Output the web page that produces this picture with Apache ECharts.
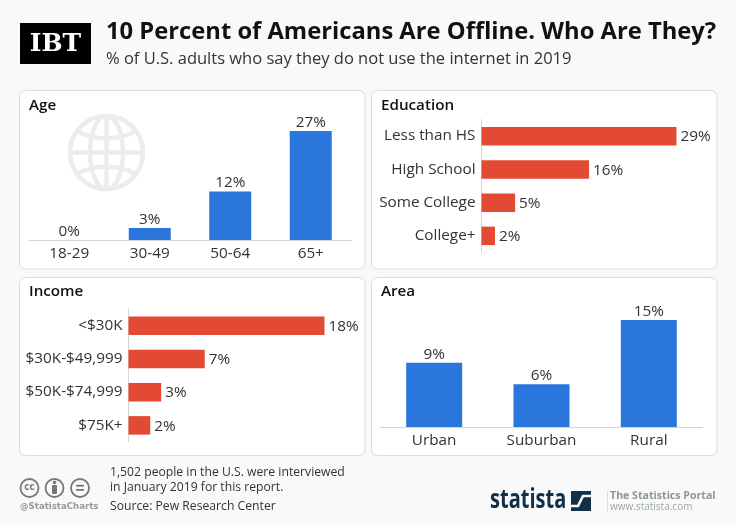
<!DOCTYPE html>
<html><head><meta charset="utf-8">
<style>html,body{margin:0;padding:0;background:#f9f9f9}#c{width:736px;height:524px}</style>
<script src="https://cdn.jsdelivr.net/npm/echarts@6/dist/echarts.min.js"></script>
</head><body><div id="c"></div>
<script>
const ageCats=['18-29','30-49','50-64','65+'];
const ageVals=[0,3,12,27];
const eduCats=['Less than HS','High School','Some College','College+'];
const eduVals=[29,16,5,2];
const incCats=['<$30K','$30K-$49,999','$50K-$74,999','$75K+'];
const incVals=[18,7,3,2];
const areaCats=['Urban','Suburban','Rural'];
const areaVals=[9,6,15];
const title='10 Percent of Americans Are Offline. Who Are They?';
const subtitle='% of U.S. adults who say they do not use the internet in 2019';
const panelNames=['Age','Education','Income','Area'];
const noteLines=['1,502 people in the U.S. were interviewed','in January 2019 for this report.','Source: Pew Research Center'];

const F='"Open Sans"';
const BLUE='#2b76dc',RED='#e34a33',TXT='#333',AX='#d2d4d6';
const FS=15.3;
const chart=echarts.init(document.getElementById('c'),null,{renderer:'canvas'});
function cat(idx,names,horizontal){
  return {gridIndex:idx,type:'category',data:names,inverse:horizontal,
    axisTick:{show:false},axisLine:{show:true,lineStyle:{color:AX,width:1}},
    axisLabel:{color:TXT,fontFamily:F,fontSize:FS,margin:6,interval:0,padding:horizontal?[2,0,0,0]:0}};
}
function val(idx,max){return {gridIndex:idx,type:'value',min:0,max:max,show:false,splitLine:{show:false}};}
function bar(idx,vals,color,w,horizontal){
  return {type:'bar',xAxisIndex:idx,yAxisIndex:idx,data:vals,barWidth:w,z:5,
    itemStyle:{color:color},
    label:{show:true,position:horizontal?'right':'top',distance:horizontal?4:1,offset:horizontal?[0,1]:[0,0],formatter:'{c}%',color:TXT,fontFamily:F,fontSize:FS}};
}
const t=(x,y,text,font,fill,extra,el)=>Object.assign({type:'text',z:1,x:x,y:y,silent:true,
  style:Object.assign({text:text,font:font,fill:fill,textAlign:'left',textVerticalAlign:'middle'},extra||{})},el||{});
const panel=(x,y,w,h)=>({type:'rect',z:0,silent:true,shape:{x:x,y:y,width:w,height:h,r:6},style:{fill:'#fff',stroke:'#dcdcdc',lineWidth:1}});
const G='#ececec';
const globeStroke={fill:'none',stroke:G,lineWidth:4.5};
const ic=(cx,cy)=>({type:'circle',z:1,silent:true,shape:{cx:cx,cy:cy,r:9},style:{fill:'none',stroke:'#777',lineWidth:1.8}});
const graphic=[
  panel(19.5,90.5,345.5,178.5),panel(371.5,90.5,345.5,178.5),panel(19.5,277.5,345.5,178),panel(371.5,277.5,345.5,178),
  {type:'rect',z:1,silent:true,shape:{x:20,y:23,width:71,height:41},style:{fill:'#000'}},
  t(55.5,44,'IBT','900 25px "DejaVu Serif"','#fff',{textAlign:'center'}),
  t(106,32,title,'700 23.75px '+F,'#111'),
  t(106,59,subtitle,'400 16.5px '+F,'#333'),
  t(29,105.5,panelNames[0],'600 15.2px '+F,'#111'),
  t(381,105.5,panelNames[1],'600 15.2px '+F,'#111'),
  t(29,292,panelNames[2],'600 15.2px '+F,'#111'),
  t(381,292,panelNames[3],'600 15.2px '+F,'#111'),
  {type:'circle',z:1,silent:true,shape:{cx:106.5,cy:152.5,r:36.5},style:globeStroke},
  {type:'ellipse',z:1,silent:true,shape:{cx:106.5,cy:152.5,rx:16.5,ry:36.5},style:globeStroke},
  {type:'line',z:1,silent:true,shape:{x1:106.5,y1:116,x2:106.5,y2:189},style:globeStroke},
  {type:'line',z:1,silent:true,shape:{x1:70,y1:152.5,x2:143,y2:152.5},style:globeStroke},
  {type:'bezierCurve',z:1,silent:true,shape:{x1:77,y1:131,x2:135.5,y2:131,cpx1:95,cpy1:141,cpx2:118,cpy2:141},style:globeStroke},
  {type:'bezierCurve',z:1,silent:true,shape:{x1:77,y1:174,x2:135.5,y2:174,cpx1:95,cpy1:164,cpx2:118,cpy2:164},style:globeStroke},
  ic(29.5,488),ic(54.5,488),ic(80,488),
  t(29.5,487.5,'cc','700 10px '+F,'#777',{textAlign:'center'}),
  {type:'circle',z:1,silent:true,shape:{cx:54.5,cy:482.5,r:1.8},style:{fill:'#777'}},
  {type:'rect',z:1,silent:true,shape:{x:52,y:485,width:5,height:9,r:1},style:{fill:'#777'}},
  {type:'rect',z:1,silent:true,shape:{x:76,y:484.8,width:8,height:1.8},style:{fill:'#777'}},
  {type:'rect',z:1,silent:true,shape:{x:76,y:489,width:8,height:1.8},style:{fill:'#777'}},
  t(20,507,'@StatistaCharts','700 8.6px "DejaVu Sans"','#9a9a9a'),
  t(110,473,noteLines[0],'400 12.2px '+F,'#333'),
  t(110,488,noteLines[1],'400 12.2px '+F,'#333'),
  t(110,507,noteLines[2],'400 12.2px '+F,'#333'),
  t(490,501,'statista','700 26px '+F,'#10304a',null,{scaleX:0.77}),
  {type:'rect',z:1,silent:true,shape:{x:571,y:491,width:20,height:20},style:{fill:'#10304a'}},
  {type:'polyline',z:2,silent:true,shape:{points:[[571,506],[578,506],[583,496],[591,496]]},style:{fill:'none',stroke:'#f9f9f9',lineWidth:2.6}},
  {type:'rect',z:1,silent:true,shape:{x:607,y:491,width:1,height:21},style:{fill:'#ddd'}},
  t(610,495.5,'The Statistics Portal','700 10.6px '+F,'#8b969d'),
  t(610,507,'www.statista.com','400 10px '+F,'#a0a5a8')
];
chart.setOption({
  animation:false,
  backgroundColor:'#f9f9f9',
  graphic:{elements:graphic},
  grid:[
    {left:29,top:131,width:322,height:109},
    {left:481.5,top:119.5,width:195,height:133},
    {left:128.5,top:309,width:196,height:133},
    {left:380.5,top:320,width:322,height:107}
  ],
  xAxis:[cat(0,ageCats,false),val(1,eduVals[0]),val(2,incVals[0]),cat(3,areaCats,false)],
  yAxis:[val(0,ageVals[3]),cat(1,eduCats,true),cat(2,incCats,true),val(3,areaVals[2])],
  series:[bar(0,ageVals,BLUE,42,false),bar(1,eduVals,RED,18.5,true),bar(2,incVals,RED,18.5,true),bar(3,areaVals,BLUE,56,false)]
});
</script></body></html>
